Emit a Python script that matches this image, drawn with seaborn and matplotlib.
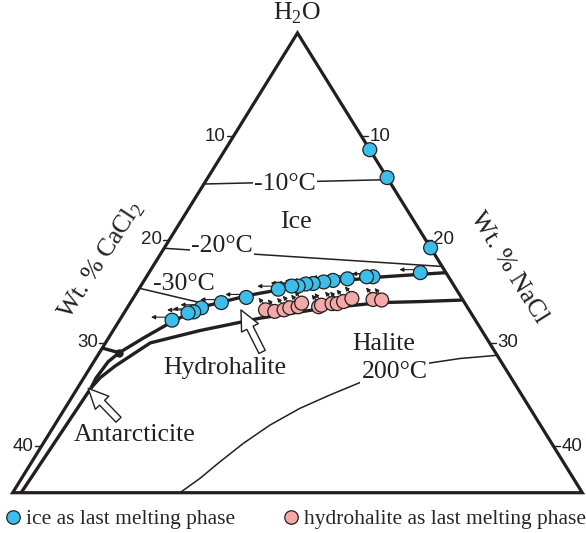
import numpy as np
import pandas as pd
import matplotlib
matplotlib.use("Agg")
import matplotlib.pyplot as plt
import matplotlib.transforms as mtransforms
from matplotlib.patches import Polygon
import seaborn as sns

# ---- fluid inclusion compositions, wt% NaCl and wt% CaCl2 (rest is H2O) ----
ice_nacl = [11.3, 14.0, 20.8, 21.2, 17.7, 17.2, 15.8, 14.75, 14.1, 13.35,
            12.8, 12.3, 11.8, 10.9, 8.8, 7.1, 5.8, 5.4, 5.0, 4.1]
ice_cacl2 = [0.0, 0.0, 0.0, 2.0, 5.9, 6.4, 8.0, 9.2, 10.0, 10.9,
             11.5, 12.2, 12.7, 13.9, 16.8, 19.0, 20.8, 21.6, 22.1, 23.7]
ice_has_arrow = [False, False, False] + [True] * 17

hh_nacl = [10.9, 11.7, 12.35, 12.7, 13.3, 13.4, 14.9, 15.05, 15.8, 16.2,
           16.6, 17.1, 18.8, 19.5]
hh_cacl2 = [15.9, 15.25, 14.45, 13.9, 13.2, 12.75, 11.6, 11.3, 10.4, 10.0,
            9.4, 8.6, 7.0, 6.35]

# ---- phase boundaries (wt% NaCl, wt% CaCl2) ----
ice_hh_nacl = [1.55, 2.73, 3.9, 5.67, 8.97, 13.6, 18.5, 23.2]
ice_hh_cacl2 = [29.4, 26.8, 24.35, 20.9, 16.4, 10.6, 5.1, 0.0]

hh_hal_nacl = [25.85, 22.6, 19.5, 15.1, 10.9, 6.8, 3.5, 1.86, 1.27, 1.05]
hh_hal_cacl2 = [0.0, 3.4, 6.6, 11.6, 16.7, 22.0, 26.5, 30.4, 32.1, 33.3]

hh_ant_nacl = [1.55, 1.12, 0.96, 1.05]
hh_ant_cacl2 = [29.4, 30.7, 32.44, 33.3]

hal_ant_nacl = [1.05, 0.66]
hal_ant_cacl2 = [33.3, 43.85]

ice_ant_nacl = [0.0, 1.55]
ice_ant_cacl2 = [30.5, 29.4]

eutectic_nacl, eutectic_cacl2 = 1.55, 29.4

# ---- isotherms ----
iso_m10_nacl, iso_m10_cacl2 = [0.0, 14.2], [14.62, 0.0]
iso_m20_nacl, iso_m20_cacl2 = [0.0, 22.6], [20.84, 0.0]
iso_m30_nacl, iso_m30_cacl2 = [0.0, 6.33], [24.71, 20.0]
iso_200_nacl = [31.2, 28.45, 26.2, 22.0, 20.06, 18.36, 16.83, 15.63, 14.7, 13.94, 13.07]
iso_200_cacl2 = [0.0, 3.06, 5.77, 11.7, 14.98, 17.97, 21.12, 24.1, 26.8, 29.17, 31.43]

tick_values = [10, 20, 30, 40]
base_total = 44.5  # total salt along the lower edge

ICE_BLUE = "#3bbfea"
HH_PINK = "#f5a8a8"


def tern(n, c):
    """(wt% NaCl, wt% CaCl2) -> plot coords: x = (NaCl - CaCl2)/2, y = total salt."""
    n = np.asarray(n, dtype=float)
    c = np.asarray(c, dtype=float)
    return (n - c) / 2.0, n + c


sns.set_theme(style="white")
plt.rcParams["font.family"] = ["Liberation Serif", "DejaVu Serif"]

fig = plt.figure(figsize=(5.86, 5.33), dpi=100)
ax = fig.add_axes([0, 0, 1, 1])

# ---- triangle frame ----
corners = np.array([tern(0, 0), tern(0, base_total), tern(base_total, 0)])
ax.add_patch(Polygon(corners, closed=True, fill=False, ec="#231f20", lw=2.3,
                     joinstyle="miter", zorder=3))

# ---- ticks on both salt axes ----
for v in tick_values:
    x, y = tern(0, v)
    ax.plot([x, x - 0.5], [y, y], color="#231f20", lw=1.0, zorder=3)
    ax.text(x - 0.6, y, str(v), ha="right", va="center", fontsize=13.5,
            family=["Liberation Sans", "DejaVu Sans"], color="#231f20")
    x, y = tern(v, 0)
    ax.plot([x, x + 0.5], [y, y], color="#231f20", lw=1.0, zorder=3)
    ax.text(x + 0.6, y, str(v), ha="left", va="center", fontsize=13.5,
            family=["Liberation Sans", "DejaVu Sans"], color="#231f20")

# ---- cotectic curves ----
thick = dict(color="#231f20", lw=2.4, solid_capstyle="butt", zorder=2)
for nn, cc in [(ice_hh_nacl, ice_hh_cacl2), (hh_hal_nacl, hh_hal_cacl2),
               (hh_ant_nacl, hh_ant_cacl2), (hal_ant_nacl, hal_ant_cacl2),
               (ice_ant_nacl, ice_ant_cacl2)]:
    x, y = tern(nn, cc)
    ax.plot(x, y, **thick)
ex, ey = tern(eutectic_nacl, eutectic_cacl2)
ax.plot([ex], [ey], "o", color="#231f20", ms=5, zorder=3)

# ---- isotherms ----
thin = dict(color="#231f20", lw=1.1, zorder=2)
for nn, cc in [(iso_m10_nacl, iso_m10_cacl2), (iso_m20_nacl, iso_m20_cacl2),
               (iso_m30_nacl, iso_m30_cacl2), (iso_200_nacl, iso_200_cacl2)]:
    x, y = tern(nn, cc)
    ax.plot(x, y, **thin)

label_kw = dict(ha="center", va="center", fontsize=18.5, color="#231f20", zorder=4)
gap_box = dict(facecolor="white", edgecolor="none", pad=1.0)
ax.text(*tern(6.33, 8.28), "-10°C", bbox=gap_box, **label_kw)
ax.text(*tern(4.41, 16.21), "-20°C", bbox=gap_box, **label_kw)
ax.text(*tern(3.28, 21.0), "-30°C", **label_kw)
ax.text(*tern(24.0, 8.8), "200°C", bbox=gap_box, **label_kw)

# ---- field names ----
ax.text(*tern(9.0, 9.3), "Ice", **label_kw)
ax.text(*tern(21.8, 8.3), "Halite", **label_kw)
ax.text(*tern(10.55, 21.88), "Hydrohalite", **label_kw)
ax.text(*tern(6.76, 32.15), "Antarcticite", **label_kw)

hollow = dict(arrowstyle="simple,head_length=0.8,head_width=0.75,tail_width=0.28",
              fc="white", ec="#231f20", lw=1.0, mutation_scale=18,
              shrinkA=0, shrinkB=0)
ax.annotate("", xy=tern(8.99, 17.82), xytext=tern(12.67, 18.2),
            arrowprops=hollow, zorder=4)
ax.annotate("", xy=tern(0.85, 33.55), xytext=tern(4.74, 32.7),
            arrowprops=hollow, zorder=4)

# ---- apex and axis titles ----
ax.annotate("H$_{\\mathregular{2}}$O", xy=tern(0, 0), xytext=(0, 5),
            textcoords="offset points", ha="center", va="bottom",
            fontsize=18.5, color="#231f20")
ax.text(*tern(-4.3, 26.3), "Wt. % CaCl$_{\\mathregular{2}}$", rotation=57,
        rotation_mode="anchor", ha="center", va="center", fontsize=18.5,
        color="#231f20")
ax.text(*tern(27.9, -5.15), "Wt. % NaCl", rotation=-58, rotation_mode="anchor",
        ha="center", va="center", fontsize=18.5, color="#231f20")

# ---- small arrows showing the melting paths ----
small = dict(arrowstyle="-|>", color="#231f20", lw=0.8, mutation_scale=6,
             shrinkA=0, shrinkB=0)


def path_arrow(x, y, start, end):
    ax.annotate("", xy=(x, y),
                xycoords=mtransforms.offset_copy(ax.transData, fig=fig, x=end[0], y=end[1], units="dots"),
                xytext=(x, y),
                textcoords=mtransforms.offset_copy(ax.transData, fig=fig, x=start[0], y=start[1], units="dots"),
                arrowprops=small, zorder=3)


ix, iy = tern(ice_nacl, ice_cacl2)
for x, y, has in zip(ix, iy, ice_has_arrow):
    if has:
        path_arrow(x, y, (-6, 3), (-21, 3))
hx, hy = tern(hh_nacl, hh_cacl2)
for x, y in zip(hx, hy):
    path_arrow(x, y, (-1, 5), (-7, 12))

# ---- inclusion data ----
df = pd.DataFrame({
    "x": np.concatenate([ix, hx]),
    "y": np.concatenate([iy, hy]),
    "phase": ["ice as last melting phase"] * len(ix)
    + ["hydrohalite as last melting phase"] * len(hx),
})
sns.scatterplot(data=df, x="x", y="y", hue="phase",
                palette={"ice as last melting phase": ICE_BLUE,
                         "hydrohalite as last melting phase": HH_PINK},
                s=100, edgecolor="#231f20", linewidth=0.9, zorder=5, ax=ax)

handles, labels = ax.get_legend_handles_labels()
for h in handles:
    if hasattr(h, "set_markersize"):
        h.set_markersize(9.7)
        h.set_markeredgecolor("#231f20")
        h.set_markeredgewidth(0.9)
ax.legend(handles, labels, loc="center left", ncol=2, frameon=False,
          bbox_to_anchor=(7 / 586, 1 - 519 / 533), borderpad=0, borderaxespad=0,
          handlelength=0.6, handletextpad=0.3, columnspacing=2.3,
          prop={"family": ["Liberation Serif"], "size": 15.5})

ax.set_xlim(-23.24, 22.54)
ax.set_ylim(48.40, -3.19)
ax.axis("off")

fig.savefig("out.png", dpi=100)
